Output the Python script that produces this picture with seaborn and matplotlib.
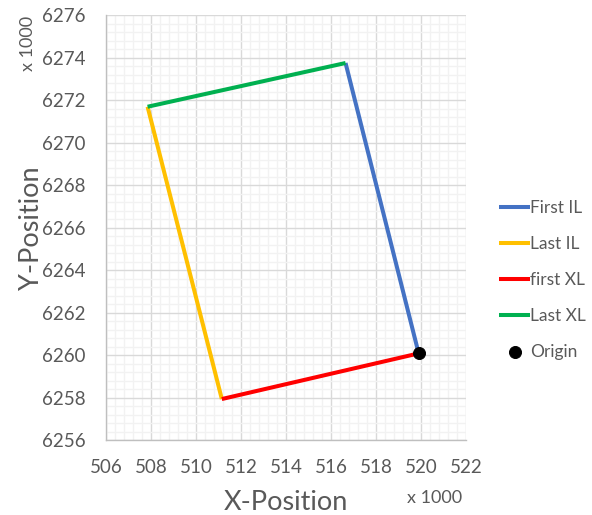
import matplotlib
matplotlib.use("Agg")
import matplotlib.pyplot as plt
from matplotlib.ticker import MultipleLocator
import pandas as pd
import seaborn as sns

sns.set_theme(style="white")
plt.rcParams["font.family"] = ["Lato", "DejaVu Sans"]

# Survey corner coordinates (x 1000)
origin_x = [519.90]
origin_y = [6260.08]
first_il_x = [519.90, 516.65]
first_il_y = [6260.08, 6273.76]
last_xl_x = [516.65, 507.85]
last_xl_y = [6273.76, 6271.70]
last_il_x = [507.85, 511.15]
last_il_y = [6271.70, 6257.93]
first_xl_x = [511.15, 519.90]
first_xl_y = [6257.93, 6260.08]

series_names = ["First IL", "Last IL", "first XL", "Last XL"]
series_colors = ["#4472C4", "#FFC000", "#FF0000", "#00B050"]
text_gray = "#595959"

fig = plt.figure(figsize=(5.92, 5.15), dpi=100)
ax = fig.add_axes([0.179, 0.1456, 0.608, 0.8244])

segments = [
    (first_il_x, first_il_y),
    (last_il_x, last_il_y),
    (first_xl_x, first_xl_y),
    (last_xl_x, last_xl_y),
]
for name, color, (xs, ys) in zip(series_names, series_colors, segments):
    df = pd.DataFrame({"x": xs, "y": ys})
    sns.lineplot(data=df, x="x", y="y", sort=False, color=color, lw=2.9,
                 label=name, ax=ax, solid_capstyle="butt")

sns.scatterplot(x=origin_x, y=origin_y, color="black", s=75, zorder=5,
                edgecolor="black", label="Origin", ax=ax)

ax.set_xlim(506, 522)
ax.set_ylim(6256, 6276)
ax.xaxis.set_major_locator(MultipleLocator(2))
ax.yaxis.set_major_locator(MultipleLocator(2))
ax.xaxis.set_minor_locator(MultipleLocator(0.4))
ax.yaxis.set_minor_locator(MultipleLocator(0.4))
ax.grid(which="major", color="#D9D9D9", lw=1.0)
ax.grid(which="minor", color="#F2F2F2", lw=1.0)
ax.set_axisbelow(True)

for side in ["top", "right"]:
    ax.spines[side].set_visible(False)
for side in ["left", "bottom"]:
    ax.spines[side].set_color("#BFBFBF")
    ax.spines[side].set_linewidth(1.0)

ax.tick_params(which="major", direction="out", length=4.5, width=1,
               color="#BFBFBF", labelsize=13.5, labelcolor=text_gray)
ax.tick_params(axis="x", pad=9)
ax.tick_params(axis="y", pad=10.5)
ax.tick_params(which="minor", length=0)
ax.set_xticks(range(506, 523, 2))
ax.set_xticklabels([str(v) for v in range(506, 523, 2)])

ax.set_xlabel("X-Position", fontsize=19.5, color=text_gray, labelpad=10)
ax.set_ylabel("Y-Position", fontsize=19.5, color=text_gray, labelpad=-2)

fig.text(0.047, 0.97, "x 1000", rotation=90, ha="center", va="top",
         fontsize=13, color=text_gray)
fig.text(0.687, 0.033, "x 1000", ha="left", va="center",
         fontsize=13, color=text_gray)

leg = ax.legend(loc="center left", bbox_to_anchor=(0.832, 0.457),
                bbox_transform=fig.transFigure, frameon=False,
                fontsize=12.5, handlelength=1.75, handletextpad=0.0,
                labelspacing=1.15, borderaxespad=0)
for t in leg.get_texts():
    t.set_color(text_gray)

fig.savefig("out.png", dpi=100)
